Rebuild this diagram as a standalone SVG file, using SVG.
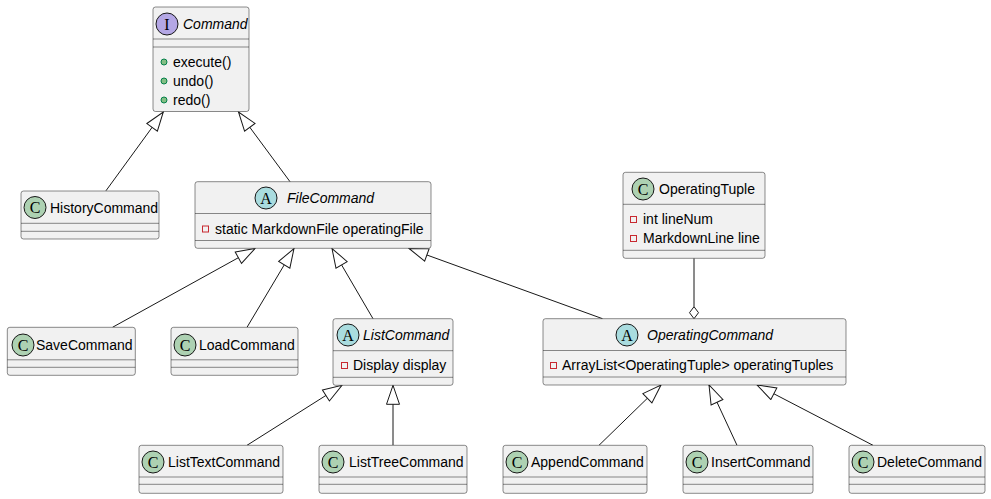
<svg xmlns="http://www.w3.org/2000/svg" width="991" height="499" viewBox="0 0 991 499">
<style>
.box{fill:#F1F1F1;stroke:#181818;stroke-width:0.5}
.sep{stroke:#181818;stroke-width:0.5}
.t{font-family:"Liberation Sans",Arial,sans-serif;font-size:14px;fill:#000}
.it{font-style:italic}
.ci{stroke:#181818;stroke-width:1}
.cc{fill:#ADD1B2}.ca{fill:#A9DCDF}.cI{fill:#B4A7E5}
.g{font-family:"Liberation Serif","DejaVu Serif",serif;font-size:16px;fill:#000;text-anchor:middle}
.pv{fill:none;stroke:#C82930;stroke-width:1}
.pb{fill:#84BE84;stroke:#038048;stroke-width:1}
.e{fill:none;stroke:#181818;stroke-width:1}
</style>
<defs>
<marker id="ext" markerUnits="userSpaceOnUse" markerWidth="21" markerHeight="15" viewBox="0 0 21 15" refX="20" refY="7.5" orient="auto">
<path d="M1,1 L20,7.5 L1,14 Z" fill="#FFFFFF" stroke="#181818" stroke-width="1"/>
</marker>
</defs>
<g id="connectors">
<path class="e" d="M106,190.7 L163.3,112" marker-end="url(#ext)"/>
<path class="e" d="M290,181.7 L238.5,112" marker-end="url(#ext)"/>
<path class="e" d="M112.5,327.3 L255,248.5" marker-end="url(#ext)"/>
<path class="e" d="M247,327.3 L294,248.5" marker-end="url(#ext)"/>
<path class="e" d="M373,318.7 L332,248.5" marker-end="url(#ext)"/>
<path class="e" d="M602.5,318.7 L409,248.5" marker-end="url(#ext)"/>
<path class="e" d="M247,445.3 L342,385.3" marker-end="url(#ext)"/>
<path class="e" d="M393,445.3 L393,385.3" marker-end="url(#ext)"/>
<path class="e" d="M599,445.3 L661,385" marker-end="url(#ext)"/>
<path class="e" d="M737,445.3 L709,385" marker-end="url(#ext)"/>
<path class="e" d="M873,445.3 L757,385" marker-end="url(#ext)"/>
<path class="e" d="M694,258.3 L694,306.7"/>
<polygon points="694,318.7 689.5,312.7 694,306.7 698.5,312.7" fill="#FFFFFF" stroke="#181818" stroke-width="1"/>
</g>
<g id="Command">
<rect class="box" x="153" y="7" width="96" height="104.5" rx="2.5"/>
<circle class="ci cI" cx="167" cy="24" r="11"/><text class="g" x="167" y="29.5">I</text>
<text class="t it" x="183" y="29">Command</text>
<line class="sep" x1="153" y1="39" x2="249" y2="39"/>
<line class="sep" x1="153" y1="47" x2="249" y2="47"/>
<circle class="pb" cx="164" cy="62" r="3"/><text class="t" x="173" y="67">execute()</text>
<circle class="pb" cx="164" cy="81" r="3"/><text class="t" x="173" y="86">undo()</text>
<circle class="pb" cx="164" cy="100" r="3"/><text class="t" x="173" y="105">redo()</text>
</g>
<g id="HistoryCommand">
<rect class="box" x="21" y="191" width="138" height="48" rx="2.5"/>
<circle class="ci cc" cx="35" cy="207.5" r="11"/><text class="g" x="35" y="213">C</text>
<text class="t" x="50" y="212.5">HistoryCommand</text>
<line class="sep" x1="21" y1="223.3" x2="159" y2="223.3"/>
<line class="sep" x1="21" y1="231.3" x2="159" y2="231.3"/>
</g>
<g id="FileCommand">
<rect class="box" x="195" y="181.7" width="236" height="66.6" rx="2.5"/>
<circle class="ci ca" cx="266" cy="198" r="11"/><text class="g" x="266" y="203.5">A</text>
<text class="t it" x="287" y="203">FileCommand</text>
<line class="sep" x1="195" y1="213.5" x2="431" y2="213.5"/>
<rect class="pv" x="202.5" y="226" width="6" height="6"/>
<text class="t" x="215" y="234">static MarkdownFile operatingFile</text>
<line class="sep" x1="195" y1="240.5" x2="431" y2="240.5"/>
</g>
<g id="OperatingTuple">
<rect class="box" x="623" y="172.3" width="142" height="86" rx="2.5"/>
<circle class="ci cc" cx="643" cy="189" r="11"/><text class="g" x="643" y="194.5">C</text>
<text class="t" x="659" y="194">OperatingTuple</text>
<line class="sep" x1="623" y1="204.3" x2="765" y2="204.3"/>
<rect class="pv" x="630.5" y="216.5" width="6" height="6"/>
<text class="t" x="643" y="224">int lineNum</text>
<rect class="pv" x="630.5" y="235.5" width="6" height="6"/>
<text class="t" x="643" y="243">MarkdownLine line</text>
<line class="sep" x1="623" y1="250.3" x2="765" y2="250.3"/>
</g>
<g id="OperatingCommand">
<rect class="box" x="543" y="318.7" width="303" height="66.3" rx="2.5"/>
<circle class="ci ca" cx="627" cy="335" r="11"/><text class="g" x="627" y="340.5">A</text>
<text class="t it" x="647" y="340">OperatingCommand</text>
<line class="sep" x1="543" y1="350.5" x2="846" y2="350.5"/>
<rect class="pv" x="550.5" y="362.5" width="6" height="6"/>
<text class="t" x="562" y="370">ArrayList&lt;OperatingTuple&gt; operatingTuples</text>
<line class="sep" x1="543" y1="377" x2="846" y2="377"/>
</g>
<g id="ListCommand">
<rect class="box" x="333" y="318.7" width="120" height="66.6" rx="2.5"/>
<circle class="ci ca" cx="348" cy="335" r="11"/><text class="g" x="348" y="340.5">A</text>
<text class="t it" x="363" y="340">ListCommand</text>
<line class="sep" x1="333" y1="350.7" x2="453" y2="350.7"/>
<rect class="pv" x="341.5" y="362.5" width="6" height="6"/>
<text class="t" x="353" y="370">Display display</text>
<line class="sep" x1="333" y1="377.3" x2="453" y2="377.3"/>
</g>
<g id="SaveCommand">
<rect class="box" x="7.3" y="327.3" width="128" height="48" rx="2.5"/>
<circle class="ci cc" cx="23" cy="345" r="11"/><text class="g" x="23" y="350.5">C</text>
<text class="t" x="36" y="350">SaveCommand</text>
<line class="sep" x1="7.3" y1="359.8" x2="135.3" y2="359.8"/>
<line class="sep" x1="7.3" y1="367.3" x2="135.3" y2="367.3"/>
</g>
<g id="LoadCommand">
<rect class="box" x="171" y="327.3" width="127" height="48" rx="2.5"/>
<circle class="ci cc" cx="185" cy="345" r="11"/><text class="g" x="185" y="350.5">C</text>
<text class="t" x="199" y="350">LoadCommand</text>
<line class="sep" x1="171" y1="359.8" x2="298" y2="359.8"/>
<line class="sep" x1="171" y1="367.3" x2="298" y2="367.3"/>
</g>
<g id="ListTextCommand">
<rect class="box" x="139" y="445.3" width="144" height="48" rx="2.5"/>
<circle class="ci cc" cx="153" cy="462" r="11"/><text class="g" x="153" y="467.5">C</text>
<text class="t" x="168" y="467">ListTextCommand</text>
<line class="sep" x1="139" y1="477" x2="283" y2="477"/>
<line class="sep" x1="139" y1="484.3" x2="283" y2="484.3"/>
</g>
<g id="ListTreeCommand">
<rect class="box" x="319" y="445.3" width="148" height="48" rx="2.5"/>
<circle class="ci cc" cx="333" cy="462" r="11"/><text class="g" x="333" y="467.5">C</text>
<text class="t" x="349" y="467">ListTreeCommand</text>
<line class="sep" x1="319" y1="477" x2="467" y2="477"/>
<line class="sep" x1="319" y1="484.3" x2="467" y2="484.3"/>
</g>
<g id="AppendCommand">
<rect class="box" x="503" y="445.3" width="144" height="48" rx="2.5"/>
<circle class="ci cc" cx="517" cy="462" r="11"/><text class="g" x="517" y="467.5">C</text>
<text class="t" x="531" y="467">AppendCommand</text>
<line class="sep" x1="503" y1="477" x2="647" y2="477"/>
<line class="sep" x1="503" y1="484.3" x2="647" y2="484.3"/>
</g>
<g id="InsertCommand">
<rect class="box" x="683" y="445.3" width="130" height="48" rx="2.5"/>
<circle class="ci cc" cx="697" cy="462" r="11"/><text class="g" x="697" y="467.5">C</text>
<text class="t" x="711" y="467">InsertCommand</text>
<line class="sep" x1="683" y1="477" x2="813" y2="477"/>
<line class="sep" x1="683" y1="484.3" x2="813" y2="484.3"/>
</g>
<g id="DeleteCommand">
<rect class="box" x="849" y="445.3" width="136" height="48" rx="2.5"/>
<circle class="ci cc" cx="863" cy="462" r="11"/><text class="g" x="863" y="467.5">C</text>
<text class="t" x="877" y="467">DeleteCommand</text>
<line class="sep" x1="849" y1="477" x2="985" y2="477"/>
<line class="sep" x1="849" y1="484.3" x2="985" y2="484.3"/>
</g>
</svg>
